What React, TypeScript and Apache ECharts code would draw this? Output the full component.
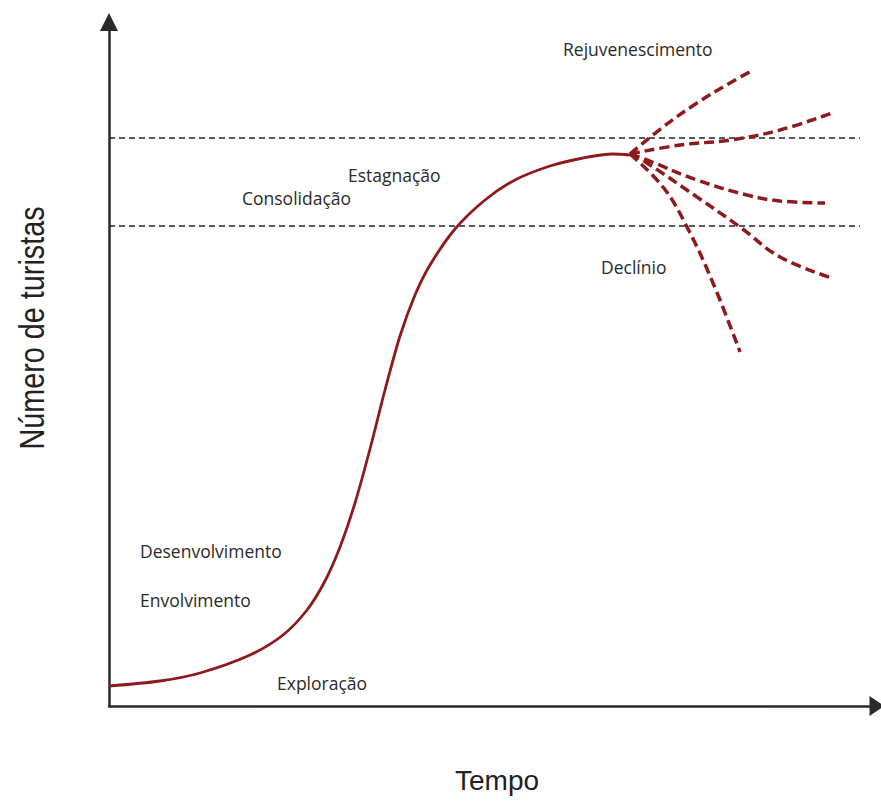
import React, { useEffect, useRef } from "react";
import * as echarts from "echarts";

// Data units: x = time (0..768), y = number of tourists (0..684)
const mainX = [0, 51, 91, 141, 174, 198, 216, 231, 246, 261, 276, 291, 306, 321, 346, 376, 406, 441, 474, 504, 521];
const mainY = [20, 25, 33, 51, 71, 96, 125, 159, 203, 257, 316, 370, 411, 441, 477, 506, 526, 540, 548, 552, 551];

const branch1X = [521, 554, 588, 621, 644];
const branch1Y = [552, 579, 603, 623, 636];
const branch2X = [521, 571, 621, 671, 723];
const branch2Y = [552, 561, 566, 576, 593];
const branch3X = [521, 538, 588, 638, 671, 716];
const branch3Y = [552, 546, 526, 511, 505, 503];
const branch4X = [521, 538, 588, 631, 671, 723];
const branch4Y = [552, 543, 509, 479, 449, 428];
const branch5X = [521, 554, 578, 604, 631];
const branch5Y = [552, 519, 479, 423, 354];

const refLevels = [568, 480];
const refLineEnd = 751;

const stageLabels = ["Rejuvenescimento", "Estagnação", "Consolidação", "Declínio", "Desenvolvimento", "Envolvimento", "Exploração"];
const xTitle = "Tempo";
const yTitle = "Número de turistas";

const zip = (xs: number[], ys: number[]) => xs.map((x, i) => [x, ys[i]]);

export default function App() {
  const ref = useRef<HTMLDivElement>(null);
  useEffect(() => {
    if (!ref.current) return;
    const chart = echarts.init(ref.current, undefined, { renderer: "svg" });
    const red = "#8e1a1d";
    const branchStyle = { color: red, width: 3.5, type: [10, 5] as any };
    const branches = [
      zip(branch1X, branch1Y),
      zip(branch2X, branch2Y),
      zip(branch3X, branch3Y),
      zip(branch4X, branch4Y),
      zip(branch5X, branch5Y),
    ];
    const labelPos: [number, number][] = [
      [563, 49],
      [348, 175],
      [242, 198],
      [601, 267],
      [140, 551],
      [140, 600],
      [277, 683],
    ];
    chart.setOption({
      animation: false,
      backgroundColor: "#ffffff",
      grid: { left: 109, top: 22, right: 4, bottom: 105 },
      xAxis: {
        type: "value",
        min: 0,
        max: 768,
        axisLine: {
          show: true,
          symbol: ["none", "triangle"],
          symbolSize: [20, 15],
          lineStyle: { color: "#2a2a2a", width: 2.5 },
        },
        axisTick: { show: false },
        axisLabel: { show: false },
        splitLine: { show: false },
      },
      yAxis: {
        type: "value",
        min: 0,
        max: 684,
        axisLine: {
          show: true,
          symbol: ["none", "triangle"],
          symbolSize: [18, 18],
          lineStyle: { color: "#2a2a2a", width: 2.5 },
        },
        axisTick: { show: false },
        axisLabel: { show: false },
        splitLine: { show: false },
      },
      series: [
        ...refLevels.map((lv) => ({
          type: "line",
          data: [
            [0, lv],
            [refLineEnd, lv],
          ],
          symbol: "none",
          lineStyle: { color: "#222", width: 1.6, type: [6, 4] },
          z: 1,
        })),
        {
          type: "line",
          data: zip(mainX, mainY),
          smooth: 0.3,
          symbol: "none",
          lineStyle: { color: red, width: 2.8 },
          z: 3,
        },
        ...branches.map((b) => ({
          type: "line",
          data: b,
          smooth: 0.4,
          symbol: "none",
          lineStyle: branchStyle,
          z: 2,
        })),
      ],
      graphic: [
        ...stageLabels.map((t, i) => ({
          type: "text",
          x: labelPos[i][0],
          y: labelPos[i][1],
          style: {
            text: t,
            fontFamily: "Open Sans",
            fontSize: 17.5,
            fill: "#2a2a2a",
            align: "left",
            verticalAlign: "middle",
          },
        })),
        {
          type: "text",
          x: 455,
          y: 780,
          style: {
            text: xTitle,
            fontFamily: "Liberation Sans",
            fontSize: 28,
            fill: "#222",
            align: "left",
            verticalAlign: "middle",
          },
        },
        {
          type: "text",
          x: 31,
          y: 328,
          rotation: Math.PI / 2,
          scaleX: 0.8,
          style: {
            text: yTitle,
            fontFamily: "Liberation Sans",
            fontSize: 36,
            fill: "#222",
            align: "center",
            verticalAlign: "middle",
          },
        },
      ],
    });
    return () => chart.dispose();
  }, []);
  return (
    <div
      ref={ref}
      style={{ position: "fixed", left: 0, top: 0, width: 881, height: 811, background: "#fff" }}
    />
  );
}
